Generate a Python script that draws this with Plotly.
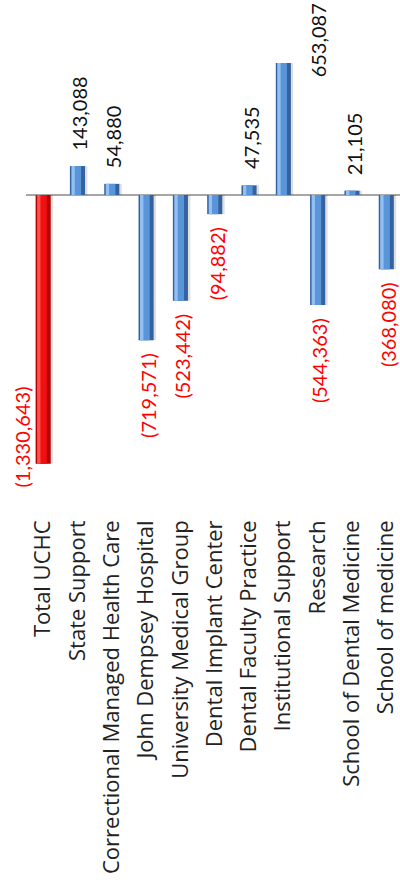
import plotly.graph_objects as go

categories = [
    "Total UCHC", "State Support", "Correctional Managed Health Care",
    "John Dempsey Hospital", "University Medical Group", "Dental Implant Center",
    "Dental Faculty Practice", "Institutional Support", "Research",
    "School of Dental Medicine", "School of medicine",
]
values = [-1330643, 143088, 54880, -719571, -523442, -94882, 47535, 653087,
          -544363, 21105, -368080]
value_labels = ["(1,330,643)", "143,088", "54,880", "(719,571)", "(523,442)",
                "(94,882)", "47,535", "653,087", "(544,363)", "21,105", "(368,080)"]

TICK_FONT = "Open Sans"
VAL_FONT = "Lato"
W = 0.44

def cols(total, other):
    return [total if i == 0 else other for i in range(len(categories))]

fig = go.Figure()
# shadow
fig.add_trace(go.Bar(x=categories, y=values, width=W, offset=-W / 2 + 0.07,
                     marker=dict(color="rgba(0,0,0,0.13)", line=dict(width=0)),
                     hoverinfo="skip"))
# base (dark right edge)
fig.add_trace(go.Bar(x=categories, y=values, width=W, offset=-W / 2,
                     marker=dict(color=cols("#B80000", "#34629F"), line=dict(width=0))))
# middle tone
fig.add_trace(go.Bar(x=categories, y=values, width=W * 0.62, offset=-W / 2 + W * 0.12,
                     marker=dict(color=cols("#F01010", "#5A95DA"), line=dict(width=0)),
                     hoverinfo="skip"))
# highlight left
fig.add_trace(go.Bar(x=categories, y=values, width=W * 0.22, offset=-W / 2 + W * 0.1,
                     marker=dict(color=cols("#FF5050", "#93C0F2"), line=dict(width=0)),
                     hoverinfo="skip"))

for i, (c, v, t) in enumerate(zip(categories, values, value_labels)):
    neg = v < 0
    ann = dict(x=c, y=v, text=t, showarrow=False, textangle=-90,
               font=dict(family=VAL_FONT, size=20, color="#FF0000" if neg else "#111111"),
               xshift=2)
    if i == 0:
        ann.update(yanchor="bottom", yshift=-26, xshift=-21)
    elif c == "Institutional Support":
        ann.update(yanchor="bottom", yshift=-16, xshift=35)
    elif neg:
        ann.update(yanchor="top", yshift=-11)
    else:
        ann.update(yanchor="bottom", yshift=14)
    fig.add_annotation(**ann)

fig.update_layout(
    width=400, height=894,
    margin=dict(l=26, r=0, t=0, b=379),
    barmode="overlay",
    showlegend=False,
    plot_bgcolor="white", paper_bgcolor="white",
    font=dict(family=TICK_FONT, size=22, color="#222222"),
)
fig.update_xaxes(range=[-0.5, 10.4], showline=False, ticks="", showgrid=False,
                 tickangle=-90, tickfont=dict(family=TICK_FONT, size=22, color="#222222"))
fig.update_yaxes(range=[-1584000, 965000], showticklabels=False, showgrid=False,
                 zeroline=True, zerolinecolor="#A6A6A6", zerolinewidth=2)

fig.write_html("out.html")
